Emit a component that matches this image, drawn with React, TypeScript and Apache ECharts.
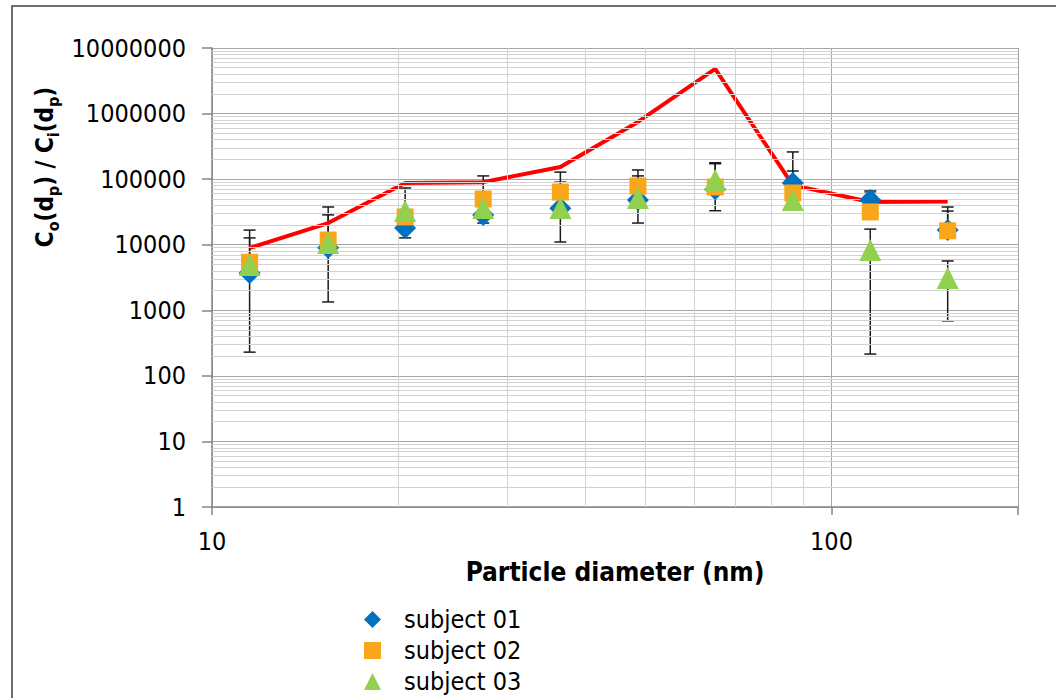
import React, { useEffect, useRef } from "react";
import * as echarts from "echarts";

const diameters = [11.5, 15.4, 20.5, 27.4, 36.5, 48.7, 64.9, 86.6, 115.5, 154.0];
const subject01 = [3700, 9000, 18000, 28500, 36000, 48000, 70000, 87000, 48000, 16700];
const subject02 = [5400, 11800, 26500, 49800, 63500, 78600, 76000, 61500, 31600, 16300];
const subject03 = [4900, 10600, 32700, 36300, 36300, 51600, 97000, 48000, 8300, 3100];
const redLine = [8900, 21400, 87500, 90000, 153000, 745000, 4800000, 81000, 44700, 45500];

// [diameter, lower, upper]
const errorBars: number[][] = [
  [11.5, 230, 16700], [11.5, 4000, 12700],
  [15.4, 1340, 37600], [15.4, 11000, 28500],
  [20.5, 12700, 73300],
  [27.4, 21400, 112000],
  [36.5, 11000, 128000], [36.5, 60000, 90000],
  [48.7, 21400, 138000], [48.7, 75000, 112000],
  [64.9, 33000, 178000], [64.9, 76000, 172000],
  [86.6, 87000, 260000], [86.6, 61500, 133000],
  [115.5, 48000, 66000], [115.5, 31600, 61000], [115.5, 215, 17300],
  [154.0, 16700, 37600], [154.0, 16300, 32600], [154.0, 690, 5650],
];

const seriesNames = ["subject 01", "subject 02", "subject 03"];
const minorX = [20, 30, 40, 50, 60, 70, 80, 90];
const yDecades = [1, 10, 100, 1000, 10000, 100000, 1000000];
const minorMult = [2, 3, 4, 5, 6, 7, 8, 9];

const FONT = '"DejaVu Sans Condensed", "DejaVu Sans", sans-serif';

export default function App() {
  const ref = useRef<HTMLDivElement>(null);
  useEffect(() => {
    if (!ref.current) return;
    const chart = echarts.init(ref.current, undefined, { renderer: "svg" });
    const minorY: number[] = [];
    yDecades.forEach((d) => minorMult.forEach((m) => minorY.push(d * m)));
    const pairs = (arr: number[]) => arr.map((v, i) => [diameters[i], v]);

    const option: any = {
      animation: false,
      backgroundColor: "#ffffff",
      textStyle: { fontFamily: FONT },
      grid: { left: 212, top: 48, right: 38, bottom: 191, containLabel: false },
      legend: {
        data: seriesNames,
        orient: "vertical",
        left: 364,
        top: 607,
        padding: 0,
        itemWidth: 17,
        itemHeight: 17,
        itemGap: 6,
        textStyle: { fontSize: 25, color: "#000", fontFamily: FONT, padding: [0, 0, 0, 18], lineHeight: 25 },
      },
      xAxis: {
        type: "log",
        logBase: 10,
        min: 10,
        max: 200,
        name: "Particle diameter (nm)",
        nameLocation: "middle",
        nameGap: 50,
        nameTextStyle: { fontSize: 26, fontWeight: "bold", color: "#000", fontFamily: FONT },
        axisLine: { show: true, lineStyle: { color: "#868686", width: 1.5 } },
        axisTick: { show: true, length: 8, lineStyle: { color: "#868686", width: 1.5 } },
        axisLabel: {
          fontSize: 25,
          color: "#000",
          margin: 22,
          fontFamily: FONT,
          formatter: (v: number) => {
            const l = Math.log10(v);
            return Math.abs(l - Math.round(l)) < 1e-6 ? String(Math.round(v)) : "";
          },
        },
        splitLine: { show: true, lineStyle: { color: "#a6a6a6", width: 1 } },
      },
      yAxis: {
        type: "log",
        logBase: 10,
        min: 1,
        max: 10000000,
        axisLine: { show: true, lineStyle: { color: "#868686", width: 1.5 } },
        axisTick: { show: true, length: 10, lineStyle: { color: "#868686", width: 1.5 } },
        axisLabel: {
          fontSize: 25,
          color: "#000",
          margin: 26,
          fontFamily: FONT,
          formatter: (v: number) => String(Math.round(v)),
        },
        splitLine: { show: true, lineStyle: { color: "#a6a6a6", width: 1 } },
      },
      graphic: [
        {
          type: "rect",
          z: -10,
          shape: { x: 12, y: 6, width: 1200, height: 900 },
          style: { fill: "none", stroke: "#404040", lineWidth: 1.5 },
        },
        {
          type: "text",
          x: 45,
          y: 167,
          rotation: Math.PI / 2,
          style: {
            text: "{b|C}{s|o}{b|(d}{s|p}{b|) / C}{s|i}{b|(d}{s|p}{b|)}",
            align: "center",
            verticalAlign: "middle",
            fill: "#000",
            rich: {
              b: { fontSize: 24, fontWeight: "bold", fontFamily: FONT, lineHeight: 32, verticalAlign: "middle", fill: "#000" },
              s: { fontSize: 16, fontWeight: "bold", fontFamily: FONT, lineHeight: 32, verticalAlign: "bottom", fill: "#000" },
            },
          },
        },
      ],
      series: [
        {
          name: "gridMinor",
          type: "line",
          data: [[10, 1]],
          symbol: "none",
          z: 1,
          silent: true,
          lineStyle: { width: 0 },
          markLine: {
            silent: true,
            symbol: ["none", "none"],
            label: { show: false },
            lineStyle: { color: "#d2d2d2", width: 1, type: "solid" },
            data: [
              ...minorX.map((x) => ({ xAxis: x })),
              ...minorY.map((y) => ({ yAxis: y })),
            ],
          },
        },
        {
          name: "errors",
          type: "custom",
          z: 3,
          silent: true,
          data: errorBars,
          renderItem: (params: any, api: any) => {
            const x = api.value(0);
            const lo = api.coord([x, api.value(1)]);
            const hi = api.coord([x, api.value(2)]);
            const w = 6;
            const st = { stroke: "#1a1a1a", lineWidth: 1.5 };
            return {
              type: "group",
              children: [
                { type: "line", shape: { x1: lo[0], y1: lo[1], x2: hi[0], y2: hi[1] }, style: st },
                { type: "line", shape: { x1: lo[0] - w, y1: lo[1], x2: lo[0] + w, y2: lo[1] }, style: st },
                { type: "line", shape: { x1: hi[0] - w, y1: hi[1], x2: hi[0] + w, y2: hi[1] }, style: st },
              ],
            };
          },
        },
        {
          name: "model",
          type: "line",
          z: 4,
          data: pairs(redLine),
          symbol: "none",
          lineStyle: { color: "#ff0000", width: 4 },
          itemStyle: { color: "#ff0000" },
        },
        {
          name: seriesNames[0],
          type: "scatter",
          z: 5,
          data: pairs(subject01),
          symbol: "diamond",
          symbolSize: 22,
          itemStyle: { color: "#0070c0", opacity: 1 },
        },
        {
          name: seriesNames[1],
          type: "scatter",
          z: 6,
          data: pairs(subject02),
          symbol: "rect",
          symbolSize: 17,
          itemStyle: { color: "#f9a61a", opacity: 1 },
        },
        {
          name: seriesNames[2],
          type: "scatter",
          z: 7,
          data: pairs(subject03),
          symbol: "triangle",
          symbolSize: 22,
          itemStyle: { color: "#92d050", opacity: 1 },
        },
      ],
    };
    chart.setOption(option);
    return () => chart.dispose();
  }, []);
  return (
    <div
      ref={ref}
      style={{ position: "fixed", left: 0, top: 0, width: 1056, height: 698, background: "#fff" }}
    />
  );
}
